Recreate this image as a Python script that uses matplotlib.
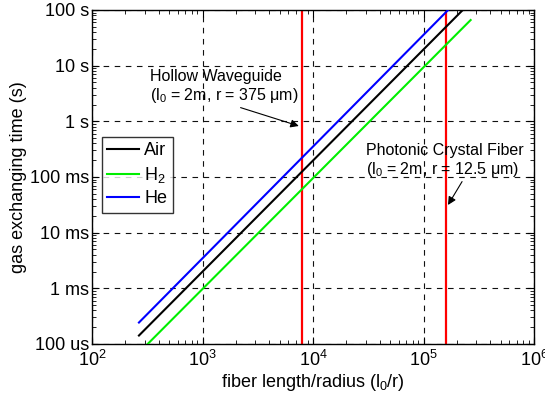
import matplotlib
matplotlib.use("Agg")
import matplotlib.pyplot as plt
from matplotlib.ticker import LogLocator, NullFormatter, FixedLocator, FixedFormatter

plt.rcParams['font.family'] = ['Liberation Sans', 'DejaVu Sans']
plt.rcParams['mathtext.fontset'] = 'custom'
plt.rcParams['mathtext.rm'] = 'Liberation Sans'
plt.rcParams['mathtext.it'] = 'Liberation Sans:italic'
plt.rcParams['mathtext.bf'] = 'Liberation Sans:bold'

# Data
air_x = [266, 2.22e5]
air_t = [1.42e-4, 96.0]
h2_x = [319, 2.67e5]
h2_t = [1.0e-4, 66.0]
he_x = [266, 1.67e5]
he_t = [2.43e-4, 100.0]
fiber_ratios = [8000, 1.6e5]   # hollow waveguide, photonic crystal fiber

y_ticks = [1e-4, 1e-3, 1e-2, 1e-1, 1, 10, 100]
y_labels = ['100 us', '1 ms', '10 ms', '100 ms', '1 s', '10 s', '100 s']

fig = plt.figure(figsize=(5.45, 3.99), dpi=100)
ax = fig.add_axes([92/545, 1-344/399, (534-92)/545, (344-10)/399])

ax.set_xscale('log')
ax.set_yscale('log')
ax.set_xlim(1e2, 1e6)
ax.set_ylim(1e-4, 100)

ax.plot(air_x, air_t, color='black', lw=1.5, label='Air', zorder=3)
ax.plot(h2_x, h2_t, color='#00ee00', lw=1.5, label=r'H$\mathregular{_2}$', zorder=3)
ax.plot(he_x, he_t, color='#0000ff', lw=1.5, label='He', zorder=3)
for xr in fiber_ratios:
    ax.axvline(xr, color='#ff0000', lw=1.6, zorder=2)

ax.yaxis.set_major_locator(FixedLocator(y_ticks))
ax.yaxis.set_major_formatter(FixedFormatter(y_labels))
ax.yaxis.set_minor_locator(LogLocator(base=10, subs=range(2, 10), numticks=20))
ax.yaxis.set_minor_formatter(NullFormatter())
ax.xaxis.set_major_locator(LogLocator(base=10, numticks=10))
ax.xaxis.set_minor_locator(LogLocator(base=10, subs=range(2, 10), numticks=20))
ax.xaxis.set_minor_formatter(NullFormatter())

ax.tick_params(which='both', direction='in', top=True, right=True, labelsize=13)
ax.tick_params(which='major', length=5, width=0.8)
ax.tick_params(which='minor', length=3, width=0.6)
ax.tick_params(axis='x', pad=4)
ax.tick_params(axis='y', pad=2)

ax.grid(True, which='major', color='#111111', linestyle=(0, (5, 5)), lw=0.8)
for s in ax.spines.values():
    s.set_linewidth(1.0)

ax.set_xlabel(r'fiber length/radius (l$\mathregular{_0}$/r)', fontsize=13, labelpad=2)
ax.set_ylabel('gas exchanging time (s)', fontsize=13, labelpad=2)

leg = ax.legend(loc='upper left', bbox_to_anchor=((102-92)/442, (344-137)/334),
                fontsize=13, frameon=True, fancybox=False, edgecolor='black',
                handlelength=1.75, handletextpad=0.3, borderpad=0.3, labelspacing=0.3,
                borderaxespad=0)
leg.get_frame().set_linewidth(1.0)

ax.annotate('Hollow Waveguide\n' + r'(l$\mathregular{_0}$ = 2m, r = 375 μm)',
            xy=(8000 * 0.93, 10**(2 - (126 - 10) / 55.67)),
            xytext=(10**(2 + (150 - 92) / 110.5), 10**(2 - (87 - 10) / 55.67)),
            fontsize=11.5, ha='left', va='center', linespacing=1.12,
            arrowprops=dict(arrowstyle='-|>', color='black', lw=0.8,
                            mutation_scale=12, shrinkA=0, shrinkB=0,
                            relpos=(0.55, 0.0)))
ax.annotate('Photonic Crystal Fiber\n' + r'(l$\mathregular{_0}$ = 2m, r = 12.5 μm)',
            xy=(10**(2 + (448 - 92) / 110.5), 10**(2 - (205 - 10) / 55.67)),
            xytext=(10**(2 + (366 - 92) / 110.5), 10**(2 - (161 - 10) / 55.67)),
            fontsize=11.5, ha='left', va='center', linespacing=1.12,
            arrowprops=dict(arrowstyle='-|>', color='black', lw=0.8,
                            mutation_scale=12, shrinkA=0, shrinkB=0,
                            relpos=(0.62, 0.0)))

fig.savefig('out.png', dpi=100)
